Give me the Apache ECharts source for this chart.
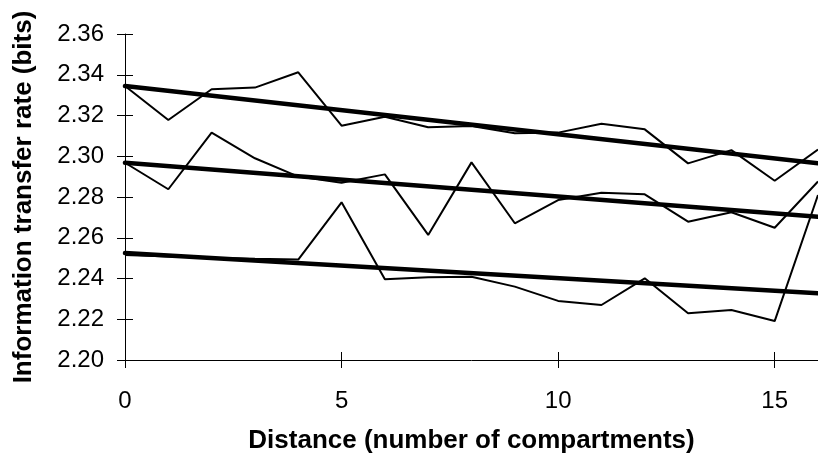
<!DOCTYPE html>
<html>
<head>
<meta charset="utf-8">
<script src="https://cdn.jsdelivr.net/npm/echarts@6/dist/echarts.min.js"></script>
<style>
  html, body { margin: 0; padding: 0; background: #fff; }
  #chart { width: 818px; height: 459px; }
</style>
</head>
<body>
<div id="chart"></div>
<script>
// Distance in compartments (x values of every series)
const distance = [0, 1, 2, 3, 4, 5, 6, 7, 8, 9, 10, 11, 12, 13, 14, 15, 16];

// Information transfer rate (bits) for the three conditions
const rateHigh = [2.3345, 2.3178, 2.3329, 2.3337, 2.3412, 2.3150, 2.3194, 2.3142, 2.3148,
                  2.3113, 2.3116, 2.3160, 2.3132, 2.2965, 2.3030, 2.2880, 2.3033];
const rateMid  = [2.2968, 2.2838, 2.3116, 2.2990, 2.2900, 2.2870, 2.2911, 2.2614, 2.2970,
                  2.2671, 2.2785, 2.2821, 2.2813, 2.2679, 2.2725, 2.2649, 2.2876];
const rateLow  = [2.2515, 2.2508, 2.2502, 2.2497, 2.2493, 2.2774, 2.2396, 2.2406, 2.2409,
                  2.2360, 2.2290, 2.2270, 2.2401, 2.2229, 2.2245, 2.2191, 2.2810];

// Linear trend lines: value at the first and last distance
const trendX    = [0, 16];
const trendHigh = [2.3345, 2.2966];
const trendMid  = [2.2968, 2.2703];
const trendLow  = [2.2525, 2.2328];

// Axis ticks
const xTicks = [0, 5, 10, 15];
const yTicks = [2.20, 2.22, 2.24, 2.26, 2.28, 2.30, 2.32, 2.34, 2.36];

const pair = (xs, ys) => xs.map((x, i) => [x, ys[i]]);

const FONT = '"Liberation Sans", Arial, sans-serif';
const black = '#000';

function rawSeries(values) {
  return {
    type: 'line', data: pair(distance, values), symbol: 'none', silent: true,
    lineStyle: { color: black, width: 2 }, z: 3
  };
}
function trendSeries(values) {
  return {
    type: 'line', data: pair(trendX, values), symbol: 'none', silent: true,
    lineStyle: { color: black, width: 4.5, cap: 'round' }, z: 4
  };
}

const xBase = { type: 'value', min: xTicks[0], max: 16, interval: xTicks[1] - xTicks[0], splitLine: { show: false } };
const yBase = { type: 'value', min: yTicks[0], max: yTicks[yTicks.length - 1], interval: 0.02, splitLine: { show: false } };

const chart = echarts.init(document.getElementById('chart'), null, { renderer: 'canvas' });
chart.setOption({
  animation: false,
  backgroundColor: '#fff',
  grid: { left: 125, top: 34, height: 326, width: 694.7, containLabel: false },
  xAxis: [
    Object.assign({}, xBase, {
      position: 'bottom',
      name: 'Distance (number of compartments)',
      nameLocation: 'middle', nameGap: 68,
      nameTextStyle: { fontFamily: FONT, fontSize: 26, fontWeight: 'bold', color: black },
      axisLine: { show: true, onZero: false, lineStyle: { color: black, width: 1 } },
      axisTick: { show: true, length: 8, lineStyle: { color: black, width: 1 } },
      axisLabel: { show: true, margin: 29, showMaxLabel: false, fontFamily: FONT, fontSize: 24, color: black,
        formatter: v => (xTicks.indexOf(v) >= 0 ? String(v) : '') }
    }),
    Object.assign({}, xBase, {
      position: 'bottom',
      axisLine: { show: false, onZero: false },
      axisTick: { show: true, inside: true, length: 8, lineStyle: { color: black, width: 1 } },
      axisLabel: { show: false }
    })
  ],
  yAxis: [
    Object.assign({}, yBase, {
      position: 'left',
      name: 'Information transfer rate (bits)',
      nameLocation: 'middle', nameGap: 88,
      nameTextStyle: { fontFamily: FONT, fontSize: 26, fontWeight: 'bold', color: black },
      axisLine: { show: true, onZero: false, lineStyle: { color: black, width: 1 } },
      axisTick: { show: true, length: 8, lineStyle: { color: black, width: 1 } },
      axisLabel: { show: true, margin: 21, fontFamily: FONT, fontSize: 24, color: black,
        formatter: v => v.toFixed(2) }
    }),
    Object.assign({}, yBase, {
      position: 'left',
      axisLine: { show: false, onZero: false },
      axisTick: { show: true, inside: true, length: 8, lineStyle: { color: black, width: 1 } },
      axisLabel: { show: false }
    })
  ],
  series: [
    rawSeries(rateHigh), rawSeries(rateMid), rawSeries(rateLow),
    trendSeries(trendHigh), trendSeries(trendMid), trendSeries(trendLow)
  ]
});
</script>
</body>
</html>
